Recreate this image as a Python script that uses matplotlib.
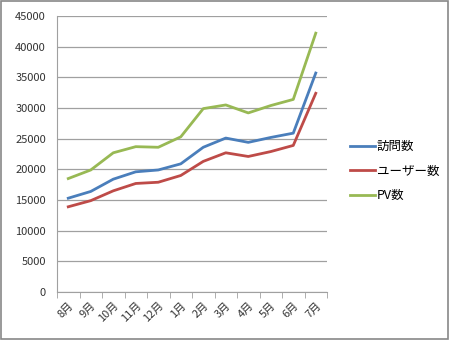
import numpy as np
import matplotlib.pyplot as plt
from matplotlib.patches import Rectangle

plt.rcParams['font.family'] = ['Noto Sans CJK JP', 'DejaVu Sans']

### data
months = ['8月', '9月', '10月', '11月', '12月', '1月', '2月', '3月', '4月', '5月', '6月', '7月']
visits = [15300, 16400, 18400, 19600, 19900, 20900, 23600, 25100, 24400, 25200, 25900, 35700]
users = [13900, 14900, 16500, 17700, 17900, 19000, 21300, 22700, 22100, 22900, 23900, 32400]
pv = [18500, 19900, 22700, 23700, 23600, 25300, 29900, 30500, 29200, 30400, 31400, 42200]

### plot
fig = plt.figure(figsize=(4.5, 3.4), dpi=100)
ax = fig.add_axes([0.1267, 0.141, 0.6, 0.812])

x = np.arange(len(months))
ax.plot(x, visits, color='#4A7EBB', lw=2.0, label='訪問数')
ax.plot(x, users, color='#BE4B48', lw=2.0, label='ユーザー数')
ax.plot(x, pv, color='#98B954', lw=2.0, label='PV数')

ax.set_xlim(-0.5, len(months) - 0.5)
ax.set_ylim(0, 45000)
ax.set_yticks(np.arange(0, 45001, 5000))
ax.yaxis.grid(True, color='#a0a0a0', lw=0.9)
ax.set_axisbelow(True)
ax.tick_params(axis='y', length=0, labelsize=8, pad=8, colors='#333333')

ax.set_xticks(x)
ax.set_xticklabels(months, rotation=45, ha='right', rotation_mode='anchor')
ax.set_xticks(np.arange(-0.5, len(months)), minor=True)
ax.tick_params(axis='x', which='major', length=0, labelsize=8, pad=6, colors='#333333')
ax.tick_params(axis='x', which='minor', length=4, color='#a0a0a0')

for s in ['top', 'right']:
    ax.spines[s].set_visible(False)
for s in ['left', 'bottom']:
    ax.spines[s].set_color('#a0a0a0')

ax.legend(loc='center left', bbox_to_anchor=(1.045, 0.438), frameon=False,
          fontsize=9, handlelength=2.0, handletextpad=0.1, labelspacing=0.9)

fig.patches.append(Rectangle((0.002, 0.003), 0.994, 0.993, transform=fig.transFigure,
                             fill=False, edgecolor='#888888', lw=1.2))

fig.savefig('out.png', dpi=100)
